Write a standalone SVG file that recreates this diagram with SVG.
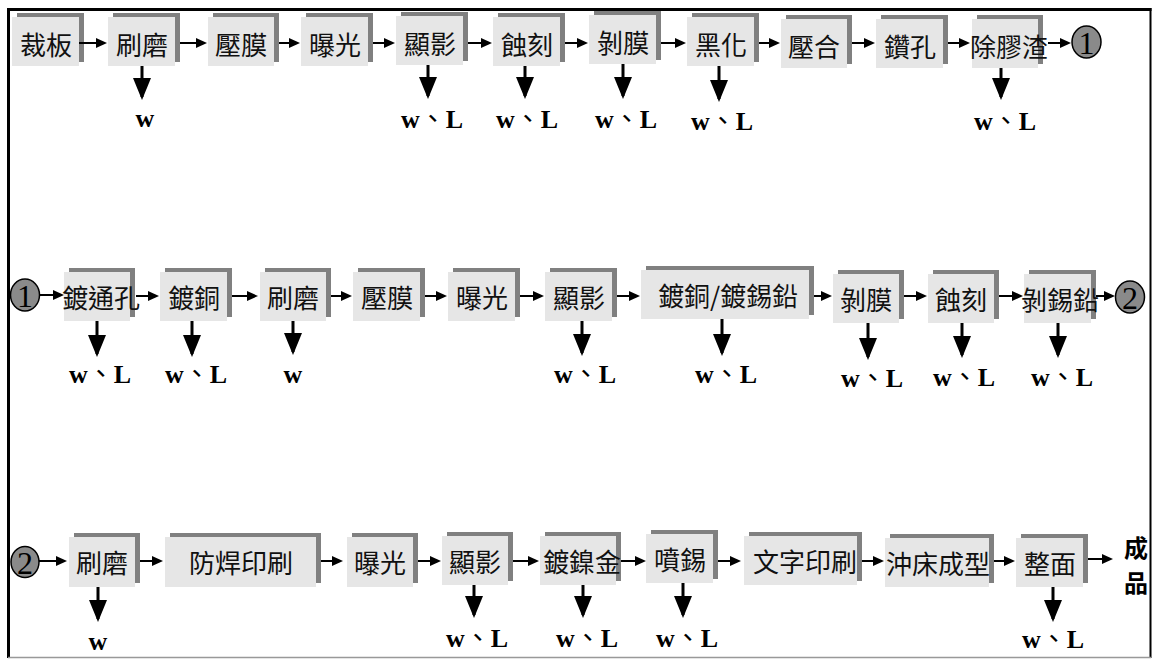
<svg xmlns="http://www.w3.org/2000/svg" width="1155" height="659" viewBox="0 0 1155 659">
  <style>
    .sh { fill: #808080; }
    .bx { fill: #e6e6e6; }
    .t { font-family: "Noto Sans CJK TC", "Noto Sans CJK SC", sans-serif; font-size: 26px; fill: #111; text-anchor: middle; }
    .lab { font-family: "Liberation Serif", "Noto Sans CJK TC", serif; font-weight: bold; font-size: 26px; fill: #000; text-anchor: middle; }
    .lab .c { font-family: "Noto Sans CJK TC", sans-serif; font-weight: normal; }
    .num { font-family: "Liberation Serif", serif; font-size: 32px; fill: #000; text-anchor: middle; }
    .end { font-family: "Noto Sans CJK TC", sans-serif; font-weight: bold; font-size: 24px; fill: #000; text-anchor: middle; }
    .flow { stroke: #000; stroke-width: 2; fill: none; marker-end: url(#head); }
    .out { stroke: #000; stroke-width: 3; fill: none; marker-end: url(#drop); }
    .circ { fill: #8a8a8a; stroke: #000; stroke-width: 1.5; }
  </style>
  <defs>
    <marker id="head" markerUnits="userSpaceOnUse" markerWidth="11" markerHeight="10" refX="8" refY="5" orient="auto">
      <path d="M0,0 L11,5 L0,10 z" fill="#000"/>
    </marker>
    <marker id="drop" markerUnits="userSpaceOnUse" markerWidth="22" markerHeight="18" refX="19" refY="9" orient="auto">
      <path d="M0,0 L22,9 L0,18 z" fill="#000"/>
    </marker>
  </defs>

  <rect width="1155" height="659" fill="#fff"/>

  <!-- frame -->
  <g id="frame">
    <line x1="7" y1="9.5" x2="1151.5" y2="9.5" stroke="#000" stroke-width="3"/>
    <line x1="8.5" y1="8" x2="8.5" y2="658" stroke="#000" stroke-width="3"/>
    <line x1="1150.5" y1="8" x2="1150.5" y2="658" stroke="#000" stroke-width="2"/>
    <line x1="8" y1="657.5" x2="1151" y2="657.5" stroke="#999" stroke-width="1.5"/>
  </g>

  <!-- row 1 -->
  <g id="r1-cut"><rect class="sh" x="17" y="13" width="67" height="49"/><rect class="bx" x="12" y="17" width="67" height="49"/><text class="t" x="46" y="55">裁板</text></g>
  <g id="r1-brush"><rect class="sh" x="113" y="13" width="67" height="49"/><rect class="bx" x="108" y="17" width="67" height="49"/><text class="t" x="142" y="55">刷磨</text></g>
  <g id="r1-film"><rect class="sh" x="213" y="13" width="66" height="49"/><rect class="bx" x="208" y="17" width="66" height="49"/><text class="t" x="241" y="55">壓膜</text></g>
  <g id="r1-expose"><rect class="sh" x="306" y="13" width="67" height="49"/><rect class="bx" x="301" y="17" width="67" height="49"/><text class="t" x="335" y="55">曝光</text></g>
  <g id="r1-develop"><rect class="sh" x="401" y="12" width="67" height="49"/><rect class="bx" x="396" y="16" width="67" height="49"/><text class="t" x="430" y="54">顯影</text></g>
  <g id="r1-etch"><rect class="sh" x="498" y="13" width="67" height="49"/><rect class="bx" x="493" y="17" width="67" height="49"/><text class="t" x="527" y="55">蝕刻</text></g>
  <g id="r1-strip"><rect class="sh" x="594" y="11" width="67" height="49"/><rect class="bx" x="589" y="15" width="67" height="49"/><text class="t" x="623" y="53">剝膜</text></g>
  <g id="r1-black"><rect class="sh" x="692" y="13" width="67" height="49"/><rect class="bx" x="687" y="17" width="67" height="49"/><text class="t" x="721" y="55">黑化</text></g>
  <g id="r1-press"><rect class="sh" x="786" y="15" width="66" height="49"/><rect class="bx" x="781" y="19" width="66" height="49"/><text class="t" x="814" y="57">壓合</text></g>
  <g id="r1-drill"><rect class="sh" x="881" y="15" width="67" height="49"/><rect class="bx" x="876" y="19" width="67" height="49"/><text class="t" x="910" y="57">鑽孔</text></g>
  <g id="r1-desmear"><rect class="sh" x="977" y="15" width="66" height="49"/><rect class="bx" x="972" y="19" width="66" height="49"/><text class="t" x="1009" y="57">除膠渣</text></g>
  <g id="r1-link1"><ellipse class="circ" cx="1086.5" cy="42" rx="14.5" ry="16"/><text class="num" x="1086.5" y="54">1</text></g>

  <!-- row 2 -->
  <g id="r2-link1"><ellipse class="circ" cx="25" cy="295" rx="14.5" ry="16"/><text class="num" x="25" y="307">1</text></g>
  <g id="r2-pth"><rect class="sh" x="69" y="268" width="66" height="49"/><rect class="bx" x="64" y="272" width="66" height="49"/><text class="t" x="101" y="308">鍍通孔</text></g>
  <g id="r2-cu"><rect class="sh" x="165" y="268" width="67" height="49"/><rect class="bx" x="160" y="272" width="67" height="49"/><text class="t" x="194" y="308">鍍銅</text></g>
  <g id="r2-brush"><rect class="sh" x="265" y="268" width="66" height="49"/><rect class="bx" x="260" y="272" width="66" height="49"/><text class="t" x="293" y="308">刷磨</text></g>
  <g id="r2-film"><rect class="sh" x="358" y="268" width="67" height="49"/><rect class="bx" x="353" y="272" width="67" height="49"/><text class="t" x="387" y="308">壓膜</text></g>
  <g id="r2-expose"><rect class="sh" x="453" y="268" width="67" height="49"/><rect class="bx" x="448" y="272" width="67" height="49"/><text class="t" x="482" y="308">曝光</text></g>
  <g id="r2-develop"><rect class="sh" x="550" y="268" width="67" height="49"/><rect class="bx" x="545" y="272" width="67" height="49"/><text class="t" x="579" y="308">顯影</text></g>
  <g id="r2-plate"><rect class="sh" x="646" y="266" width="168" height="49"/><rect class="bx" x="641" y="270" width="168" height="49"/><text class="t" x="728" y="306">鍍銅/鍍錫鉛</text></g>
  <g id="r2-strip"><rect class="sh" x="838" y="270" width="66" height="49"/><rect class="bx" x="833" y="274" width="66" height="49"/><text class="t" x="866" y="310">剝膜</text></g>
  <g id="r2-etch"><rect class="sh" x="933" y="270" width="66" height="49"/><rect class="bx" x="928" y="274" width="66" height="49"/><text class="t" x="961" y="310">蝕刻</text></g>
  <g id="r2-sn-strip"><rect class="sh" x="1029" y="270" width="67" height="49"/><rect class="bx" x="1024" y="274" width="67" height="49"/><text class="t" x="1060" y="310">剝錫鉛</text></g>
  <g id="r2-link2"><ellipse class="circ" cx="1130" cy="297" rx="14.5" ry="16"/><text class="num" x="1130" y="309">2</text></g>

  <!-- row 3 -->
  <g id="r3-link2"><ellipse class="circ" cx="25" cy="562" rx="14" ry="15.5"/><text class="num" x="25" y="574">2</text></g>
  <g id="r3-brush"><rect class="sh" x="74" y="533" width="66" height="50"/><rect class="bx" x="69" y="537" width="66" height="50"/><text class="t" x="102" y="573">刷磨</text></g>
  <g id="r3-mask"><rect class="sh" x="170" y="533" width="151" height="50"/><rect class="bx" x="165" y="537" width="151" height="50"/><text class="t" x="241" y="573">防焊印刷</text></g>
  <g id="r3-expose"><rect class="sh" x="352" y="533" width="66" height="50"/><rect class="bx" x="347" y="537" width="66" height="50"/><text class="t" x="380" y="573">曝光</text></g>
  <g id="r3-develop"><rect class="sh" x="447" y="532" width="66" height="49"/><rect class="bx" x="442" y="536" width="66" height="49"/><text class="t" x="475" y="572">顯影</text></g>
  <g id="r3-niau"><rect class="sh" x="545" y="532" width="76" height="49"/><rect class="bx" x="540" y="536" width="76" height="49"/><text class="t" x="582" y="572">鍍鎳金</text></g>
  <g id="r3-hasl"><rect class="sh" x="651" y="530" width="67" height="49"/><rect class="bx" x="646" y="534" width="67" height="49"/><text class="t" x="680" y="570">噴錫</text></g>
  <g id="r3-legend"><rect class="sh" x="749" y="532" width="113" height="49"/><rect class="bx" x="744" y="536" width="113" height="49"/><text class="t" x="805" y="572">文字印刷</text></g>
  <g id="r3-punch"><rect class="sh" x="890" y="534" width="104" height="49"/><rect class="bx" x="885" y="538" width="104" height="49"/><text class="t" x="938" y="574">沖床成型</text></g>
  <g id="r3-finish"><rect class="sh" x="1021" y="534" width="67" height="49"/><rect class="bx" x="1016" y="538" width="67" height="49"/><text class="t" x="1050" y="574">整面</text></g>
  <g id="r3-product"><text class="end" x="1136" y="557">成</text><text class="end" x="1136" y="592">品</text></g>

  <!-- connectors -->
  <g id="connectors">
    <!-- row 1 flow -->
    <line class="flow" x1="79" y1="43" x2="104" y2="43"/>
    <line class="flow" x1="180" y1="43" x2="204" y2="43"/>
    <line class="flow" x1="279" y1="43" x2="297" y2="43"/>
    <line class="flow" x1="373" y1="43" x2="392" y2="43"/>
    <line class="flow" x1="468" y1="43" x2="489" y2="43"/>
    <line class="flow" x1="565" y1="43" x2="585" y2="43"/>
    <line class="flow" x1="661" y1="43" x2="683" y2="43"/>
    <line class="flow" x1="759" y1="43" x2="777" y2="43"/>
    <line class="flow" x1="852" y1="43" x2="872" y2="43"/>
    <line class="flow" x1="948" y1="43" x2="967" y2="43"/>
    <line class="flow" x1="1048" y1="43" x2="1068" y2="43"/>
    <!-- row 2 flow -->
    <line class="flow" x1="40" y1="295" x2="61" y2="295"/>
    <line class="flow" x1="136" y1="296" x2="156" y2="296"/>
    <line class="flow" x1="232" y1="296" x2="255" y2="296"/>
    <line class="flow" x1="331" y1="296" x2="349" y2="296"/>
    <line class="flow" x1="425" y1="296" x2="444" y2="296"/>
    <line class="flow" x1="520" y1="296" x2="541" y2="296"/>
    <line class="flow" x1="617" y1="296" x2="637" y2="296"/>
    <line class="flow" x1="814" y1="296" x2="829" y2="296"/>
    <line class="flow" x1="904" y1="296" x2="924" y2="296"/>
    <line class="flow" x1="999" y1="296" x2="1020" y2="296"/>
    <line class="flow" x1="1096" y1="296" x2="1112" y2="296"/>
    <!-- row 3 flow -->
    <line class="flow" x1="39" y1="561" x2="64" y2="561"/>
    <line class="flow" x1="140" y1="561" x2="160" y2="561"/>
    <line class="flow" x1="321" y1="561" x2="340" y2="561"/>
    <line class="flow" x1="418" y1="561" x2="438" y2="561"/>
    <line class="flow" x1="513" y1="561" x2="536" y2="561"/>
    <line class="flow" x1="621" y1="561" x2="643" y2="561"/>
    <line class="flow" x1="718" y1="561" x2="738" y2="561"/>
    <line class="flow" x1="862" y1="561" x2="881" y2="561"/>
    <line class="flow" x1="994" y1="561" x2="1012" y2="561"/>
    <line class="flow" x1="1088" y1="559" x2="1110" y2="559"/>

    <!-- discharge arrows -->
    <line class="out" x1="142" y1="66" x2="142" y2="97"/>
    <line class="out" x1="428" y1="65" x2="428" y2="96"/>
    <line class="out" x1="525" y1="66" x2="525" y2="96"/>
    <line class="out" x1="623" y1="64" x2="623" y2="96"/>
    <line class="out" x1="719" y1="66" x2="719" y2="99"/>
    <line class="out" x1="1001" y1="68" x2="1001" y2="97"/>

    <line class="out" x1="97" y1="321" x2="97" y2="354"/>
    <line class="out" x1="192" y1="321" x2="192" y2="354"/>
    <line class="out" x1="293" y1="321" x2="293" y2="352"/>
    <line class="out" x1="582" y1="321" x2="582" y2="353"/>
    <line class="out" x1="722" y1="319" x2="722" y2="353"/>
    <line class="out" x1="868" y1="323" x2="868" y2="357"/>
    <line class="out" x1="962" y1="323" x2="962" y2="355"/>
    <line class="out" x1="1058" y1="323" x2="1058" y2="355"/>

    <line class="out" x1="98" y1="587" x2="98" y2="619"/>
    <line class="out" x1="474" y1="585" x2="474" y2="615"/>
    <line class="out" x1="583" y1="585" x2="583" y2="615"/>
    <line class="out" x1="683" y1="583" x2="683" y2="615"/>
    <line class="out" x1="1053" y1="587" x2="1053" y2="619"/>
  </g>

  <!-- discharge labels -->
  <g id="discharges">
    <text class="lab" x="145" y="127">w</text>
    <text class="lab" x="432" y="128">w<tspan class="c">、</tspan>L</text>
    <text class="lab" x="527" y="128">w<tspan class="c">、</tspan>L</text>
    <text class="lab" x="626" y="128">w<tspan class="c">、</tspan>L</text>
    <text class="lab" x="722" y="130">w<tspan class="c">、</tspan>L</text>
    <text class="lab" x="1005" y="130">w<tspan class="c">、</tspan>L</text>

    <text class="lab" x="100" y="383">w<tspan class="c">、</tspan>L</text>
    <text class="lab" x="196" y="383">w<tspan class="c">、</tspan>L</text>
    <text class="lab" x="293" y="383">w</text>
    <text class="lab" x="585" y="383">w<tspan class="c">、</tspan>L</text>
    <text class="lab" x="726" y="383">w<tspan class="c">、</tspan>L</text>
    <text class="lab" x="872" y="387">w<tspan class="c">、</tspan>L</text>
    <text class="lab" x="964" y="386">w<tspan class="c">、</tspan>L</text>
    <text class="lab" x="1062" y="386">w<tspan class="c">、</tspan>L</text>

    <text class="lab" x="98" y="650">w</text>
    <text class="lab" x="477" y="647">w<tspan class="c">、</tspan>L</text>
    <text class="lab" x="587" y="647">w<tspan class="c">、</tspan>L</text>
    <text class="lab" x="687" y="647">w<tspan class="c">、</tspan>L</text>
    <text class="lab" x="1053" y="648">w<tspan class="c">、</tspan>L</text>
  </g>
</svg>
